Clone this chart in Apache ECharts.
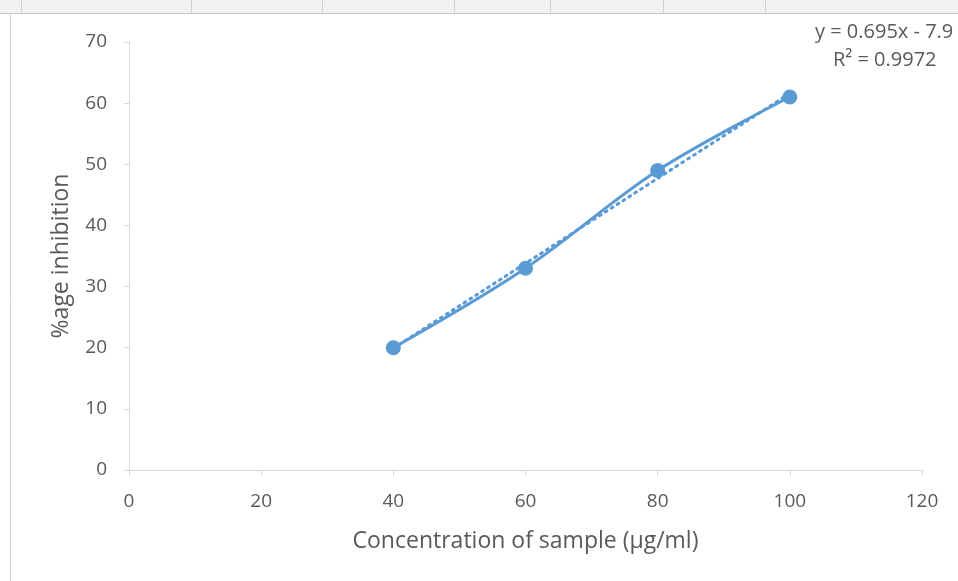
<!DOCTYPE html>
<html>
<head>
<meta charset="utf-8">
<script src="https://cdn.jsdelivr.net/npm/echarts@6/dist/echarts.min.js"></script>
<style>
  html, body { margin: 0; padding: 0; background: #fff; }
  #chart { width: 958px; height: 581px; }
</style>
</head>
<body>
<div id="chart"></div>
<script>
  // concentration (µg/ml) and % inhibition
  var concentration = [40, 60, 80, 100];
  var inhibition = [20, 33, 49, 61];
  var xTicks = [0, 20, 40, 60, 80, 100, 120];
  var yTicks = [0, 10, 20, 30, 40, 50, 60, 70];
  var eqText = 'y = 0.695x - 7.9';
  var r2Text = 'R² = 0.9972';

  // least squares line through the points (Excel linear trendline)
  var n = concentration.length, mx = 0, my = 0;
  for (var i = 0; i < n; i++) { mx += concentration[i] / n; my += inhibition[i] / n; }
  var sxy = 0, sxx = 0;
  for (var i = 0; i < n; i++) {
    sxy += (concentration[i] - mx) * (inhibition[i] - my);
    sxx += (concentration[i] - mx) * (concentration[i] - mx);
  }
  var slope = sxy / sxx, icpt = my - slope * mx;
  var x0 = concentration[0], x1 = concentration[n - 1];
  var trend = [[x0, slope * x0 + icpt], [x1, slope * x1 + icpt]];

  var pts = concentration.map(function (c, i) { return [c, inhibition[i]]; });

  var blue = '#5b9bd5';
  var grey = '#595959';
  var font = 'Open Sans';

  var myChart = echarts.init(document.getElementById('chart'));

  // spreadsheet header strip behind the chart
  var cols = [21, 191, 322, 454, 550, 663, 765];
  var graphics = [
    { type: 'rect', shape: { x: 0, y: 0, width: 958, height: 13 }, style: { fill: '#f2f2f2' }, silent: true },
    { type: 'line', shape: { x1: 0, y1: 13.5, x2: 958, y2: 13.5 }, style: { stroke: '#c6c6c6', lineWidth: 1 }, silent: true },
    { type: 'line', shape: { x1: 10.5, y1: 14, x2: 10.5, y2: 581 }, style: { stroke: '#d4d4d4', lineWidth: 1 }, silent: true },
    { type: 'text', left: 815, top: 22, style: { text: eqText, fill: grey, font: '20px "' + font + '"' }, silent: true },
    { type: 'text', left: 833, top: 50, style: { text: r2Text, fill: grey, font: '20px "' + font + '"' }, silent: true }
  ];
  cols.forEach(function (c) {
    graphics.push({ type: 'line', shape: { x1: c + 0.5, y1: 0, x2: c + 0.5, y2: 13 }, style: { stroke: '#d0d0d0', lineWidth: 1 }, silent: true });
  });

  var option = {
    backgroundColor: '#fff',
    animation: false,
    textStyle: { fontFamily: font },
    grid: { left: 129, right: 36, top: 42, bottom: 111 },
    graphic: graphics,
    xAxis: {
      type: 'value',
      min: xTicks[0], max: xTicks[xTicks.length - 1], interval: 20,
      name: 'Concentration of sample (µg/ml)',
      nameLocation: 'middle', nameGap: 60,
      nameTextStyle: { color: grey, fontSize: 23, fontFamily: font },
      axisLine: { show: true, onZero: false, lineStyle: { color: '#d9d9d9', width: 1 } },
      axisTick: { show: true, length: 6, lineStyle: { color: '#d9d9d9' } },
      axisLabel: { color: grey, fontSize: 19, margin: 22, fontFamily: font },
      splitLine: { show: false }
    },
    yAxis: {
      type: 'value',
      min: yTicks[0], max: yTicks[yTicks.length - 1], interval: 10,
      name: '%age inhibition',
      nameLocation: 'middle', nameGap: 56,
      nameTextStyle: { color: grey, fontSize: 23, fontFamily: font },
      axisLine: { show: true, lineStyle: { color: '#d9d9d9', width: 1 } },
      axisTick: { show: true, length: 5, lineStyle: { color: '#d9d9d9' } },
      axisLabel: { color: grey, fontSize: 19, margin: 22, fontFamily: font },
      splitLine: { show: false }
    },
    series: [
      {
        name: 'trend', type: 'line', data: trend, symbol: 'none',
        lineStyle: { color: blue, width: 3, type: [2, 5], cap: 'round' },
        z: 1
      },
      {
        name: 'inhibition', type: 'line', data: pts, smooth: 0.35,
        symbol: 'circle', symbolSize: 15,
        itemStyle: { color: blue },
        lineStyle: { color: blue, width: 3 },
        z: 2
      }
    ]
  };
  myChart.setOption(option);
</script>
</body>
</html>
